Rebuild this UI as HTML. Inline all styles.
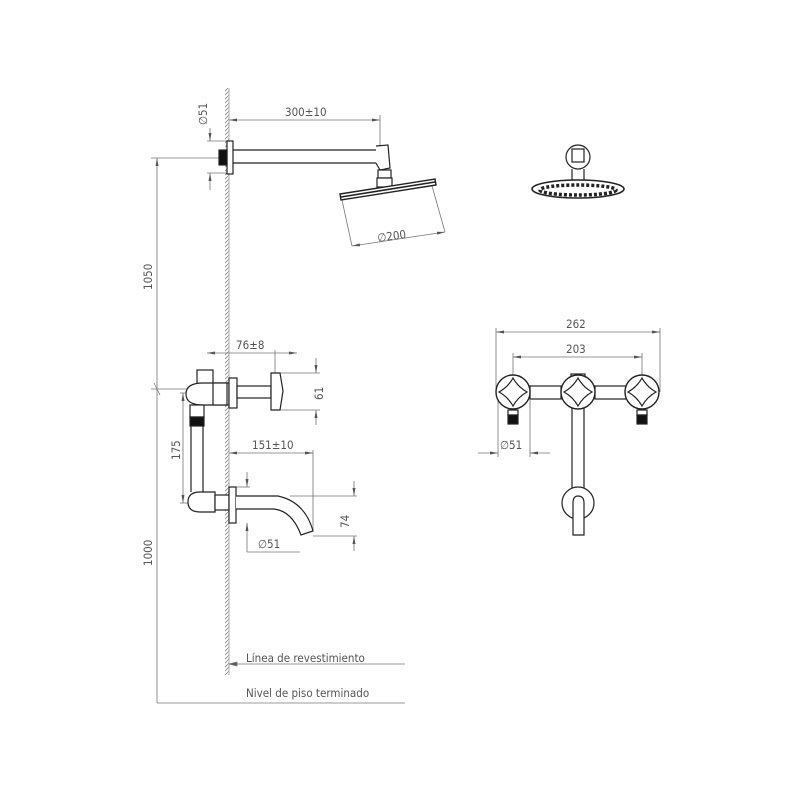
<!DOCTYPE html>
<html><head><meta charset="utf-8"><style>
html,body{margin:0;padding:0;background:#fff;}
svg{display:block;}
text{font-family:"DejaVu Sans Condensed","Liberation Sans",sans-serif;fill:#555;font-size:11.5px;}
</style></head><body>
<svg width="800" height="800" viewBox="0 0 800 800" xmlns="http://www.w3.org/2000/svg">
<defs>
<marker id="a" markerWidth="8" markerHeight="6" refX="8" refY="3" orient="auto-start-reverse" markerUnits="userSpaceOnUse"><path d="M0,1.5 L8,3 L0,4.5Z" fill="#555"/></marker>
<pattern id="h" width="4" height="4" patternUnits="userSpaceOnUse"><path d="M0,4 L4,0" stroke="#888" stroke-width="0.8"/></pattern>
</defs>
<g stroke="#777" stroke-width="0.8" fill="none">
<line x1="229" y1="88" x2="229" y2="675" stroke="#999"/>
<rect x="225" y="88" width="4" height="587" fill="url(#h)" stroke="none"/>
<line x1="157" y1="158" x2="157" y2="703" marker-start="url(#a)"/>
<line x1="151" y1="158" x2="220" y2="158"/>
<line x1="151" y1="389" x2="190" y2="389"/>
<path d="M154,383 L160,395"/>
<line x1="157" y1="703" x2="405" y2="703"/>
<line x1="229" y1="664" x2="405" y2="664"/>
<path d="M229,664 L237,662 L237,666Z" fill="#555"/>
<line x1="229" y1="120" x2="380" y2="120" marker-start="url(#a)" marker-end="url(#a)"/>
<line x1="380" y1="115" x2="380" y2="146"/>
<line x1="207" y1="141" x2="227" y2="141"/><line x1="207" y1="173" x2="227" y2="173"/>
<line x1="210" y1="128" x2="210" y2="141" marker-end="url(#a)"/>
<line x1="210" y1="190" x2="210" y2="173" marker-end="url(#a)"/>
<line x1="342" y1="200" x2="352" y2="246"/>
<line x1="432" y1="186" x2="445" y2="232"/>
<line x1="352" y1="246" x2="445" y2="232" marker-start="url(#a)" marker-end="url(#a)"/>
<line x1="207" y1="353" x2="297" y2="353" marker-start="url(#a)" marker-end="url(#a)"/>
<line x1="275" y1="350" x2="275" y2="410"/>
<line x1="275" y1="373" x2="320" y2="373"/><line x1="275" y1="410" x2="320" y2="410"/>
<line x1="316" y1="358" x2="316" y2="373" marker-end="url(#a)"/>
<line x1="316" y1="425" x2="316" y2="410" marker-end="url(#a)"/>
<line x1="183" y1="393" x2="183" y2="503" marker-start="url(#a)" marker-end="url(#a)"/>
<line x1="180" y1="393" x2="200" y2="393"/><line x1="180" y1="503" x2="195" y2="503"/>
<line x1="229" y1="453" x2="313" y2="453" marker-start="url(#a)" marker-end="url(#a)"/>
<line x1="313" y1="450" x2="313" y2="531"/>
<line x1="290" y1="496" x2="357" y2="496"/><line x1="313" y1="536" x2="357" y2="536"/>
<line x1="354" y1="481" x2="354" y2="496" marker-end="url(#a)"/>
<line x1="354" y1="551" x2="354" y2="536" marker-end="url(#a)"/>
<line x1="247" y1="472" x2="247" y2="487" marker-end="url(#a)"/>
<line x1="247" y1="552" x2="247" y2="523" marker-end="url(#a)"/>
<line x1="236" y1="487" x2="250" y2="487"/>
<line x1="247" y1="552" x2="300" y2="552"/>
<line x1="496" y1="332" x2="660" y2="332" marker-start="url(#a)" marker-end="url(#a)"/>
<line x1="496" y1="328" x2="496" y2="392"/><line x1="660" y1="328" x2="660" y2="392"/>
<line x1="513" y1="357" x2="642" y2="357" marker-start="url(#a)" marker-end="url(#a)"/>
<line x1="513" y1="353" x2="513" y2="375"/><line x1="642" y1="353" x2="642" y2="375"/>
<line x1="498" y1="400" x2="498" y2="457"/><line x1="530" y1="400" x2="530" y2="457"/>
<line x1="478" y1="453" x2="498" y2="453" marker-end="url(#a)"/>
<line x1="550" y1="453" x2="530" y2="453" marker-end="url(#a)"/>
</g>
<g stroke="#222" stroke-width="1.2" fill="#fff">
<rect x="227" y="141" width="6" height="33"/>
<rect x="219" y="150" width="8" height="15" fill="#111"/>
<line x1="233" y1="150" x2="376" y2="150"/><line x1="233" y1="163" x2="376" y2="163"/>
<path d="M376,146 L388,145 L390,168 L380,170 L376,163"/>
<rect x="378" y="170" width="13" height="8"/>
<rect x="377" y="178" width="15" height="9"/>
<path d="M340,194 L435,179 L436,185 L341,200Z" fill="#fff" stroke-width="1.4"/>
<line x1="341" y1="197" x2="435" y2="182" stroke-width="1.6"/>
<rect x="197" y="370" width="16" height="14"/>
<path d="M203,383 L229,383 L229,405 L203,405 Q186,405 186,394 Q186,383 203,383Z"/>
<rect x="213" y="383" width="14" height="22"/>
<rect x="229" y="378" width="8" height="30"/>
<rect x="237" y="386" width="34" height="12"/>
<path d="M271,373 L280,373 L283,391 L280,410 L271,410Z"/>
<rect x="190" y="405" width="14" height="12"/>
<rect x="190" y="417" width="14" height="9" fill="#111"/>
<line x1="191" y1="426" x2="191" y2="492"/><line x1="203" y1="426" x2="203" y2="492"/>
<path d="M200,492 L215,492 L215,512 L200,512 Q188,512 188,502 Q188,492 200,492Z"/>
<rect x="215" y="495" width="14" height="15"/>
<rect x="229" y="487" width="7" height="36"/>
<path d="M236,496 L278,496 Q305,502 313,531 L301,535 Q292,511 274,509 L236,509" />
<circle cx="578" cy="157" r="12"/>
<rect x="572" y="149" width="12" height="13"/>
<line x1="572" y1="169" x2="572" y2="181"/><line x1="584" y1="169" x2="584" y2="181"/>
<ellipse cx="578" cy="189" rx="46" ry="9" stroke-width="1.6"/>
<ellipse cx="578" cy="190" rx="38" ry="5" fill="none" stroke-dasharray="3 2" stroke-width="3.5"/>
<rect x="530" y="386" width="31" height="13"/>
<rect x="595" y="386" width="31" height="13"/>
<rect x="571" y="374" width="14" height="8"/>
<rect x="572" y="408" width="12" height="82"/>
<circle cx="578" cy="503" r="16"/>
<path d="M573,535 L573,503 Q573,496 578,496 Q584,496 584,503 L584,535Z"/>
<rect x="508" y="410" width="10" height="5"/><rect x="508" y="415" width="10" height="9" fill="#111"/>
<rect x="637" y="410" width="10" height="5"/><rect x="637" y="415" width="10" height="9" fill="#111"/>
<g id="v">
<circle cx="513" cy="392" r="17" stroke-width="1.4"/>
<path d="M513,378 Q518,387 527,392 Q518,397 513,406 Q508,397 499,392 Q508,387 513,378Z"/>
</g>
<use href="#v" x="65"/><use href="#v" x="129"/>
</g>
<text x="285" y="116">300±10</text>
<text transform="translate(207,125) rotate(-90)">∅51</text>
<text transform="translate(378,242) rotate(-8)">∅200</text>
<text transform="translate(152,290) rotate(-90)">1050</text>
<text transform="translate(152,566) rotate(-90)">1000</text>
<text x="236" y="349">76±8</text>
<text transform="translate(323,400) rotate(-90)">61</text>
<text transform="translate(180,460) rotate(-90)">175</text>
<text x="252" y="449">151±10</text>
<text transform="translate(349,528) rotate(-90)">74</text>
<text x="258" y="548">∅51</text>
<text x="566" y="328">262</text>
<text x="566" y="353">203</text>
<text x="500" y="449">∅51</text>
<text x="246" y="662" font-size="12.5">Línea de revestimiento</text>
<text x="246" y="697" font-size="12.5">Nivel de piso terminado</text>
</svg>
</body></html>
